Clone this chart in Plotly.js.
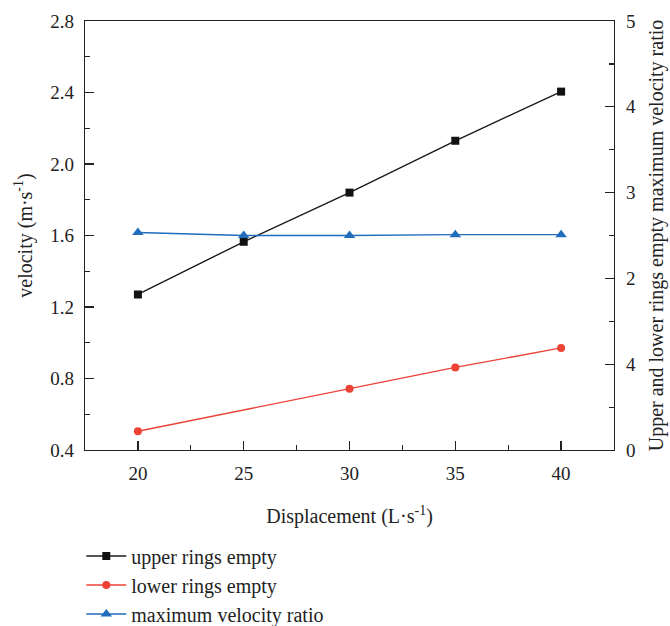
<!DOCTYPE html>
<html>
<head>
<meta charset="utf-8">
<script src="https://cdn.plot.ly/plotly-3.0.1.min.js"></script>
<style>html,body{margin:0;padding:0;background:#fff;}</style>
</head>
<body>
<div id="chart" style="width:670px;height:626px;"></div>
<script>
// Data
const displacement = [20, 25, 30, 35, 40];
const upperRingsEmpty = [1.27, 1.565, 1.84, 2.13, 2.405];
const lowerX = [20, 30, 35, 40];
const lowerRingsEmpty = [0.505, 0.743, 0.862, 0.971];
const maxVelocityRatio = [2.535, 2.50, 2.50, 2.51, 2.51];
const rightTickVals = [0, 1, 2, 3, 4, 5];
const rightTickText = ["0", "4", "2", "3", "4", "5"];

const FONT = "Liberation Serif, Times New Roman, serif";
const axisCommon = {
  showgrid: false, zeroline: false, showline: true, linecolor: '#222', linewidth: 1.3,
  ticks: 'inside', ticklen: 9, tickwidth: 1.2, tickcolor: '#222',
  tickfont: {family: FONT, size: 19, color: '#222'}
};

const traces = [
  {x: displacement, y: upperRingsEmpty, name: 'upper rings empty', mode: 'lines+markers',
   line: {color: '#1a1a1a', width: 1.4}, marker: {symbol: 'square', size: 8, color: '#111'},
   legendgroup: 'a'},
  {x: lowerX, y: lowerRingsEmpty, name: 'lower rings empty', mode: 'lines+markers',
   line: {color: '#ee4236', width: 1.4}, marker: {symbol: 'circle', size: 8, color: '#ee4236'},
   legendgroup: 'b'},
  {x: displacement, y: maxVelocityRatio, name: 'maximum velocity ratio', mode: 'lines+markers',
   yaxis: 'y2', line: {color: '#1f6dbb', width: 1.4}, marker: {symbol: 'triangle-up', size: 10, color: '#1f6dbb'},
   legendgroup: 'c'}
];

const layout = {
  width: 670, height: 626,
  margin: {l: 85, r: 56, t: 21, b: 176},
  paper_bgcolor: '#fff', plot_bgcolor: '#fff',
  font: {family: FONT, color: '#222'},
  showlegend: true,
  xaxis: Object.assign({}, axisCommon, {
    range: [17.5, 42.5], tickvals: displacement, mirror: true,
    ticklabelstandoff: 6,
    minor: {ticks: 'inside', ticklen: 5, tickwidth: 1.2, tickcolor: '#222', dtick: 2.5, tick0: 17.5},
    title: {text: 'Displacement (L·s<sup>-1</sup>)', font: {family: FONT, size: 20, color: '#222'}, standoff: 26}
  }),
  yaxis: Object.assign({}, axisCommon, {
    range: [0.4, 2.8], dtick: 0.4, tick0: 0.4, tickformat: '.1f',
    ticklabelstandoff: 6,
    minor: {ticks: 'inside', ticklen: 5, tickwidth: 1.2, tickcolor: '#222', dtick: 0.2, tick0: 0.4},
    title: {text: 'velocity (m·s<sup>-1</sup>)', font: {family: FONT, size: 20, color: '#222'}, standoff: 12}
  }),
  yaxis2: Object.assign({}, axisCommon, {
    overlaying: 'y', side: 'right', range: [0, 5],
    tickvals: rightTickVals, ticktext: rightTickText,
    ticklabelstandoff: 7,
    minor: {ticks: 'inside', ticklen: 5, tickwidth: 1.2, tickcolor: '#222', dtick: 0.5, tick0: 0},
    title: {text: 'Upper and lower rings empty maximum velocity ratio', font: {family: FONT, size: 20, color: '#222'}, standoff: 14}
  }),
  legend: {
    x: -0.007, xanchor: 'left', xref: 'paper',
    y: 0.143, yanchor: 'top', yref: 'container',
    orientation: 'v', traceorder: 'grouped', tracegroupgap: 0, itemwidth: 40,
    font: {family: FONT, size: 20, color: '#222'},
    bgcolor: 'rgba(0,0,0,0)'
  }
};

Plotly.newPlot('chart', traces, layout, {displayModeBar: false, staticPlot: true});
</script>
</body>
</html>
